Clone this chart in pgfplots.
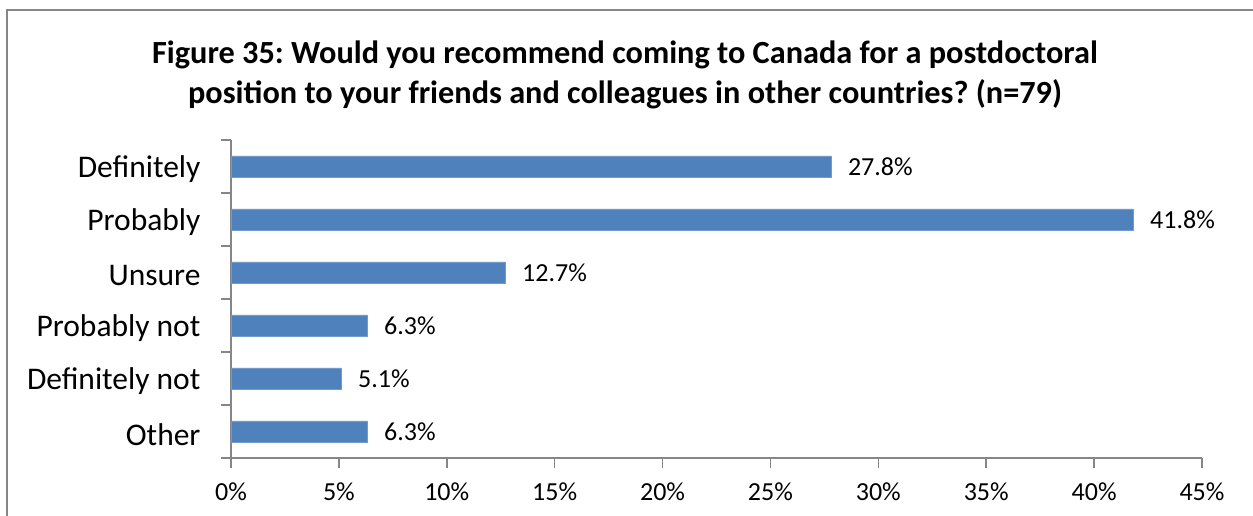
\documentclass[border=0pt]{standalone}
\usepackage{fontspec}
\setmainfont{Carlito}
\usepackage{pgfplots}
\pgfplotsset{compat=1.18}
\definecolor{barblue}{HTML}{4F81BD}
\definecolor{axgray}{HTML}{868686}
\frenchspacing
\begin{document}
\begin{tikzpicture}
\useasboundingbox (-231pt,-58pt) rectangle (1022pt,458pt);
\draw[axgray, line width=1.5pt] (-224pt,-60pt) -- (-224pt,448pt) -- (1030pt,448pt);
\node[align=center, font=\fontsize{32.3}{40}\selectfont\bfseries] at (394pt,383pt)
 {Figure 35: Would you recommend coming to Canada for a postdoctoral\\position to your friends and colleagues in other countries? (n=79)};
\begin{axis}[
  at={(0pt,0pt)}, anchor=south west,
  scale only axis, width=971pt, height=318pt,
  xmin=0, xmax=45, ymin=-0.5, ymax=5.5,
  xbar, bar width=21pt,
  axis lines*=left,
  axis line style={axgray, line width=1.5pt},
  tick align=outside,
  xtick={0,5,...,45},
  xticklabel={\pgfmathprintnumber{\tick}\%},
  xticklabel style={font=\fontsize{26}{30}\selectfont, yshift=-11pt},
  major tick length=10pt, minor tick length=10pt,
  every tick/.style={axgray, line width=1.5pt},
  ytick={0,...,5},
  yticklabels={Other, Definitely not, Probably not, Unsure, Probably, Definitely},
  major y tick style={draw=none},
  minor ytick={-0.5,0.5,...,5.5},
  minor y tick style={axgray, line width=1.5pt},
  yticklabel style={font=\fontsize{31.5}{36}\selectfont, xshift=-17pt, yshift=-3pt},
  /pgf/number format/assume math mode=true,
  nodes near coords={\pgfmathprintnumber[fixed,precision=1,fixed zerofill]{\pgfplotspointmeta}\%},
  every node near coord/.append style={font=\fontsize{26}{30}\selectfont, anchor=west, inner sep=2pt, xshift=15pt, black},
  point meta=x,
  clip=false,
]
\addplot[fill=barblue, draw=barblue!80!white] coordinates {
 (27.8,5) (41.8,4) (12.7,3) (6.3,2) (5.1,1) (6.3,0)
};
\end{axis}
\end{tikzpicture}
\end{document}
